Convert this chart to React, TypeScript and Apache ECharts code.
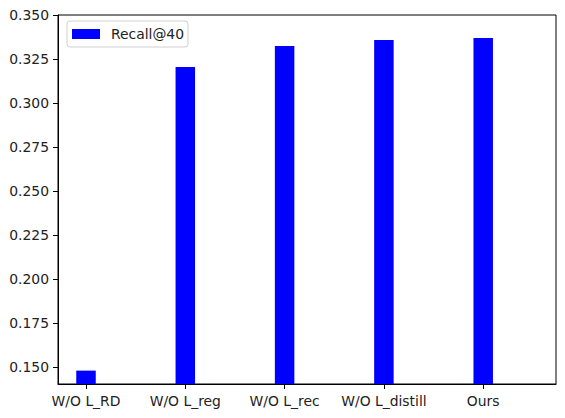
import React, { useEffect, useRef } from "react";
import * as echarts from "echarts";

const categories = ["W/O L_RD", "W/O L_reg", "W/O L_rec", "W/O L_distill", "Ours"];
const recall40 = [0.1481, 0.3205, 0.3324, 0.3358, 0.337];
const yTicks = [0.15, 0.175, 0.2, 0.225, 0.25, 0.275, 0.3, 0.325, 0.35];
const xTicks = [0, 1, 2, 3, 4];

export default function App() {
  const ref = useRef<HTMLDivElement>(null);
  useEffect(() => {
    if (!ref.current) return;
    const chart = echarts.init(ref.current, undefined, { renderer: "svg" });
    const font = "DejaVu Sans";
    chart.setOption({
      animation: false,
      grid: {
        left: 58,
        top: 15,
        right: 9,
        bottom: 34,
        show: true,
        borderColor: "#000",
        borderWidth: 1,
        backgroundColor: "#fff",
      },
      legend: {
        show: true,
        left: 67,
        top: 21,
        orient: "vertical",
        padding: [6, 4, 6, 5],
        borderColor: "#d0d0d0",
        borderWidth: 1,
        borderRadius: 3,
        backgroundColor: "#fff",
        itemWidth: 28,
        itemHeight: 10,
        icon: "rect",
        textStyle: { fontFamily: font, fontSize: 13.9, color: "#222", padding: [0, 0, 0, 6] },
        data: ["Recall@40"],
      },
      xAxis: {
        type: "value",
        min: -0.282,
        max: 4.733,
        splitLine: { show: false },
        axisLine: { show: true, onZero: false, lineStyle: { color: "#000", width: 1 } },
        axisTick: { show: true, length: 5, lineStyle: { color: "#000" }, customValues: xTicks },
        axisLabel: {
          customValues: xTicks,
          margin: 10,
          fontFamily: font,
          fontSize: 13.9,
          color: "#222",
          formatter: (v: number) => categories[Math.round(v)] ?? "",
        },
      },
      yAxis: {
        type: "value",
        min: 0.1405,
        max: 0.35,
        splitLine: { show: false },
        axisLine: { show: true, onZero: false, lineStyle: { color: "#000", width: 1 } },
        axisTick: { show: true, length: 5, lineStyle: { color: "#000" }, customValues: yTicks },
        axisLabel: {
          customValues: yTicks,
          margin: 9,
          fontFamily: font,
          fontSize: 13.9,
          color: "#222",
          formatter: (v: number) => v.toFixed(3),
        },
      },
      series: [
        {
          name: "Recall@40",
          type: "bar",
          barWidth: 19.5,
          itemStyle: { color: "#0000ff" },
          data: recall40.map((v, i) => [i, v]),
        },
      ],
    });
    return () => chart.dispose();
  }, []);
  return <div ref={ref} style={{ width: 565, height: 418, position: "absolute", left: 0, top: 0 }} />;
}
